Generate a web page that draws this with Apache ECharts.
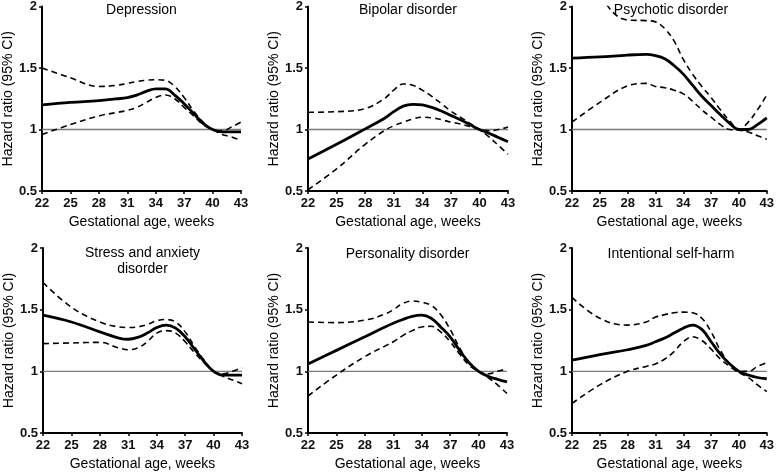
<!DOCTYPE html>
<html>
<head>
<meta charset="utf-8">
<script src="https://cdn.jsdelivr.net/npm/echarts@6/dist/echarts.min.js"></script>
<style>
  html, body { margin: 0; padding: 0; background: #fff; }
  #main { width: 777px; height: 473px; }
</style>
</head>
<body>
<div id="main"></div>
<script>
const weeks = [22, 25, 28, 30, 31, 32, 33, 34, 35, 36, 37, 38, 39, 40, 41, 42, 43];
const xTicks = [22, 25, 28, 31, 34, 37, 40, 43];
const yTicks = [0.5, 1, 1.5, 2];

const titles = ['Depression', 'Bipolar disorder', 'Psychotic disorder',
  'Stress and anxiety\ndisorder', 'Personality disorder', 'Intentional self-harm'];

const depHR = [1.20, 1.22, 1.235, 1.25, 1.26, 1.28, 1.31, 1.33, 1.33, 1.28, 1.21, 1.13, 1.05, 1.00, 0.98, 0.98, 0.98];
const depHi = [1.50, 1.42, 1.35, 1.36, 1.375, 1.39, 1.40, 1.405, 1.40, 1.35, 1.26, 1.15, 1.06, 1.00, 0.99, 1.02, 1.06];
const depLo = [0.96, 1.04, 1.11, 1.14, 1.155, 1.18, 1.22, 1.26, 1.28, 1.25, 1.18, 1.11, 1.04, 1.00, 0.96, 0.94, 0.91];

const bipHR = [0.76, 0.88, 1.005, 1.09, 1.145, 1.19, 1.205, 1.20, 1.18, 1.15, 1.115, 1.08, 1.04, 1.00, 0.97, 0.935, 0.90];
const bipHi = [1.14, 1.145, 1.17, 1.25, 1.32, 1.37, 1.36, 1.32, 1.27, 1.21, 1.15, 1.10, 1.05, 1.00, 0.94, 0.87, 0.80];
const bipLo = [0.51, 0.68, 0.88, 0.99, 1.03, 1.06, 1.085, 1.10, 1.095, 1.08, 1.06, 1.045, 1.025, 1.00, 0.99, 1.00, 1.02];

const psyHR = [1.58, 1.59, 1.605, 1.61, 1.60, 1.575, 1.52, 1.45, 1.36, 1.27, 1.195, 1.12, 1.05, 1.00, 1.00, 1.04, 1.095];
const psyHi = [2.6, 2.1, 1.89, 1.885, 1.875, 1.82, 1.72, 1.57, 1.45, 1.35, 1.26, 1.16, 1.07, 1.00, 1.06, 1.16, 1.28];
const psyLo = [1.06, 1.22, 1.355, 1.375, 1.35, 1.34, 1.32, 1.29, 1.23, 1.16, 1.10, 1.04, 1.00, 0.995, 0.98, 0.95, 0.92];

const strHR = [1.455, 1.40, 1.32, 1.27, 1.26, 1.275, 1.31, 1.355, 1.375, 1.35, 1.28, 1.18, 1.08, 1.00, 0.97, 0.97, 0.97];
const strHi = [1.72, 1.52, 1.40, 1.36, 1.355, 1.36, 1.38, 1.41, 1.42, 1.40, 1.32, 1.20, 1.09, 1.00, 0.98, 1.00, 1.03];
const strLo = [1.225, 1.23, 1.235, 1.19, 1.175, 1.19, 1.24, 1.31, 1.33, 1.31, 1.24, 1.15, 1.07, 1.00, 0.96, 0.93, 0.90];

const perHR = [1.06, 1.17, 1.28, 1.355, 1.39, 1.42, 1.445, 1.455, 1.43, 1.36, 1.28, 1.17, 1.07, 1.00, 0.96, 0.935, 0.915];
const perHi = [1.40, 1.395, 1.415, 1.46, 1.50, 1.55, 1.57, 1.56, 1.535, 1.46, 1.34, 1.19, 1.07, 1.00, 0.98, 1.00, 1.02];
const perLo = [0.80, 0.97, 1.12, 1.20, 1.24, 1.29, 1.33, 1.36, 1.365, 1.32, 1.24, 1.14, 1.05, 1.00, 0.95, 0.89, 0.82];

const shHR = [1.09, 1.135, 1.175, 1.21, 1.24, 1.27, 1.31, 1.35, 1.375, 1.34, 1.24, 1.14, 1.06, 1.00, 0.97, 0.95, 0.94];
const shHi = [1.60, 1.43, 1.375, 1.40, 1.44, 1.46, 1.475, 1.48, 1.475, 1.43, 1.32, 1.17, 1.06, 1.00, 1.00, 1.04, 1.07];
const shLo = [0.74, 0.89, 1.00, 1.04, 1.06, 1.10, 1.16, 1.24, 1.28, 1.25, 1.18, 1.10, 1.04, 0.99, 0.95, 0.89, 0.835];

const panels = [
  [depHR, depHi, depLo], [bipHR, bipHi, bipLo], [psyHR, psyHi, psyLo],
  [strHR, strHi, strLo], [perHR, perHi, perLo], [shHR, shHi, shLo]
];

// panel boxes [left, top, width, height]
const boxes = [
  [42, 5, 199, 186], [308, 5, 200, 186], [572, 5, 198, 186],
  [43, 248, 199, 185], [308, 248, 199, 185], [572, 248, 198, 185]
];

const font = 'Liberation Sans, Arial, sans-serif';
const pair = (arr) => arr.map((v, i) => [weeks[i], v]);

var grids = [], xAxes = [], yAxes = [], series = [], titleList = [];
boxes.forEach(function (b, i) {
  grids.push({ left: b[0], top: b[1], width: b[2], height: b[3] });
  xAxes.push({
    type: 'value', gridIndex: i, min: 22, max: 43, interval: 3,
    name: 'Gestational age, weeks', nameLocation: 'middle', nameGap: 24,
    nameTextStyle: { fontSize: 14, color: '#000', fontFamily: font },
    axisLine: { lineStyle: { color: '#000', width: 2 } },
    axisTick: { length: 3, lineStyle: { color: '#000', width: 1.5 } },
    axisLabel: { fontSize: 13, fontWeight: 'bold', color: '#111', margin: 6, fontFamily: font,
      customValues: xTicks },
    splitLine: { show: false }
  });
  yAxes.push({
    type: 'value', gridIndex: i, min: 0.5, max: 2, interval: 0.5,
    name: 'Hazard ratio (95% CI)', nameLocation: 'middle', nameGap: 27,
    nameTextStyle: { fontSize: 14, color: '#000', fontFamily: font },
    axisLine: { show: true, lineStyle: { color: '#000', width: 2 } },
    axisTick: { show: true, length: 3, lineStyle: { color: '#000', width: 1.5 } },
    axisLabel: { fontSize: 13, fontWeight: 'bold', color: '#111', margin: 5, fontFamily: font,
      customValues: yTicks },
    splitLine: { show: false }
  });
  const d = panels[i];
  series.push({
    type: 'line', xAxisIndex: i, yAxisIndex: i, data: [[22, 1], [43, 1]],
    symbol: 'none', lineStyle: { color: '#7a7a7a', width: 1.4 }, z: 1, silent: true
  });
  [1, 2].forEach(function (k) {
    series.push({
      type: 'line', xAxisIndex: i, yAxisIndex: i, data: pair(d[k]), smooth: 0.4,
      symbol: 'none', clip: true,
      lineStyle: { color: '#000', width: 1.6, type: [6, 4] }, z: 2
    });
  });
  series.push({
    type: 'line', xAxisIndex: i, yAxisIndex: i, data: pair(d[0]), smooth: 0.4,
    symbol: 'none', clip: true, lineStyle: { color: '#000', width: 2.8 }, z: 3
  });
  const twoLine = titles[i].indexOf('\n') >= 0;
  titleList.push({
    text: titles[i], left: b[0] + b[2] / 2, top: i < 3 ? 2 : (twoLine ? 245 : 246),
    textAlign: 'center', padding: 0,
    textStyle: { fontSize: 14, fontWeight: 'normal', color: '#000', fontFamily: font, lineHeight: 16 }
  });
});

var myChart = echarts.init(document.getElementById('main'));
myChart.setOption({
  backgroundColor: '#fff',
  animation: false,
  title: titleList,
  grid: grids,
  xAxis: xAxes,
  yAxis: yAxes,
  series: series
});
</script>
</body>
</html>
